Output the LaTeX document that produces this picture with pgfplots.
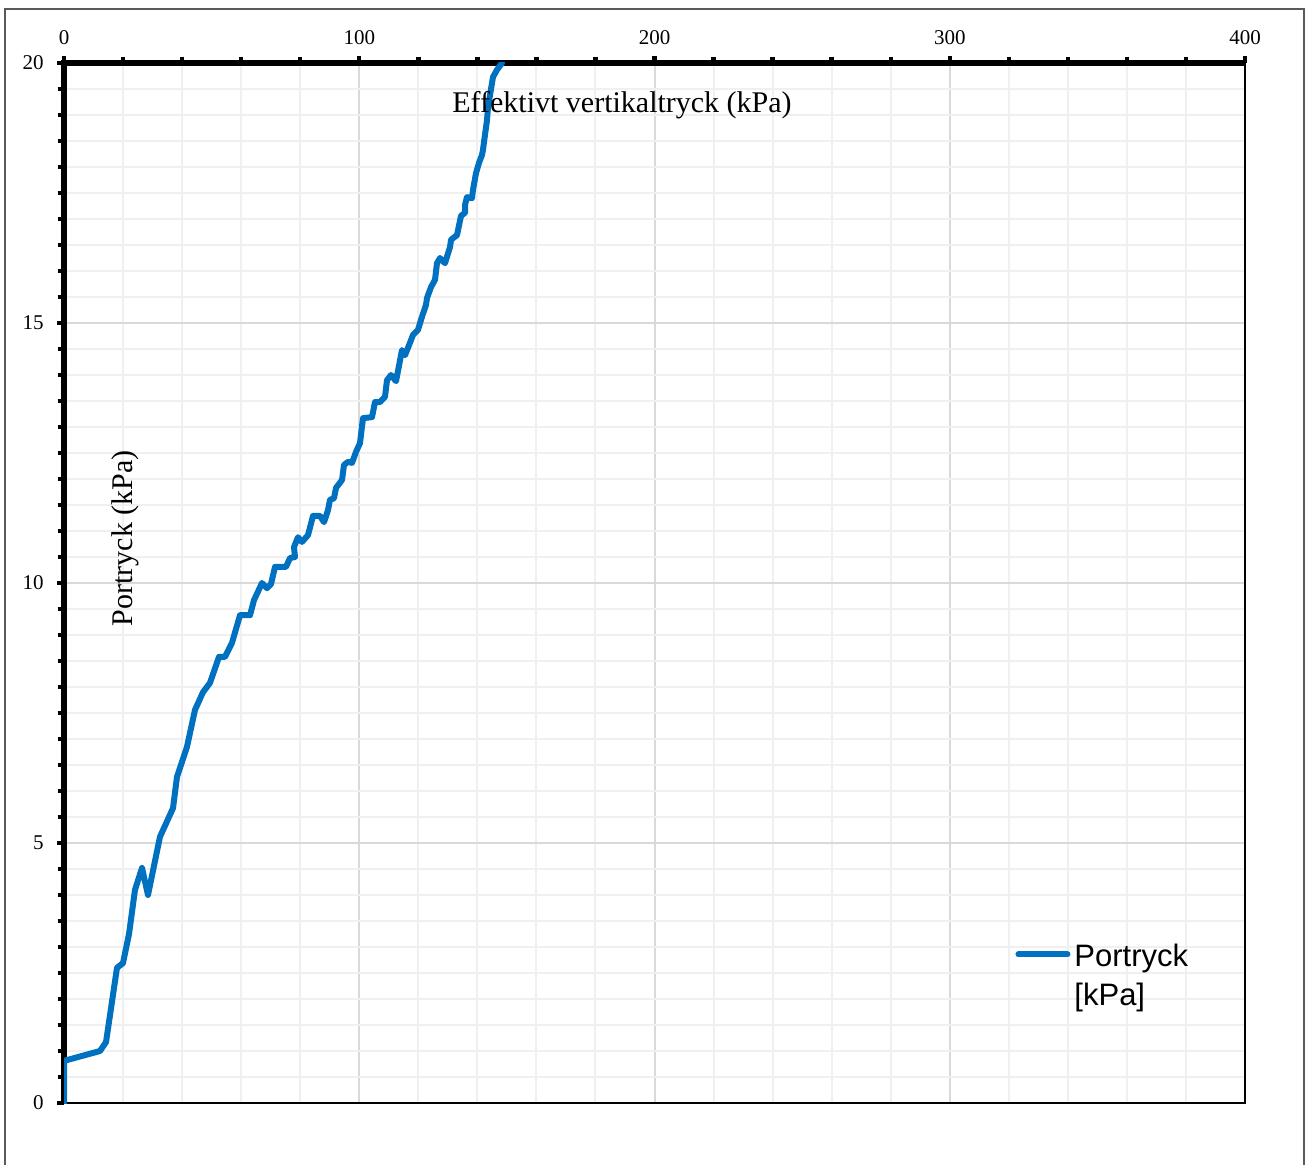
\documentclass[border=0pt]{standalone}
\usepackage{fontspec}
\setmainfont{Liberation Serif}
\newfontfamily\legendfont{Liberation Sans}
\usepackage{pgfplots}
\pgfplotsset{compat=1.18}

\definecolor{curveblue}{HTML}{0070C0}
\definecolor{gridmajor}{HTML}{D9D9D9}
\definecolor{gridminor}{HTML}{F0F0F0}
\definecolor{framegray}{HTML}{5A5A5A}

\pgfplotstableread{
x y
0.00 0.00
0.00 0.81
12.19 1.00
14.23 1.17
17.95 2.60
19.98 2.69
22.02 3.25
24.05 4.10
26.42 4.52
28.45 4.00
32.51 5.12
36.92 5.67
38.27 6.27
41.66 6.85
44.37 7.56
47.08 7.90
49.45 8.08
52.50 8.58
54.53 8.58
56.90 8.85
59.61 9.38
63.00 9.38
64.35 9.67
67.06 10.00
68.76 9.90
70.11 9.98
71.47 10.31
75.19 10.31
76.55 10.48
78.24 10.50
77.90 10.69
79.25 10.88
80.61 10.79
82.64 10.92
84.34 11.29
86.71 11.29
88.06 11.17
89.42 11.40
90.09 11.60
91.45 11.63
92.13 11.83
94.16 11.98
94.84 12.27
96.19 12.33
97.54 12.31
98.90 12.52
100.25 12.69
101.27 13.17
104.32 13.19
105.33 13.48
107.03 13.48
108.72 13.58
109.40 13.90
110.75 14.00
112.45 13.88
114.48 14.48
115.50 14.38
117.19 14.62
118.20 14.77
119.90 14.87
121.25 15.12
122.61 15.35
122.95 15.48
124.30 15.69
125.66 15.83
126.33 16.15
127.35 16.25
129.04 16.15
130.74 16.46
131.08 16.60
133.11 16.69
134.46 17.06
135.82 17.12
135.82 17.27
136.49 17.42
138.19 17.40
138.53 17.56
139.54 17.88
140.56 18.08
141.57 18.23
141.91 18.33
142.25 18.48
143.27 18.90
143.61 19.15
145.30 19.73
146.66 19.87
148.35 20.00
}\portryck

\begin{document}
\begin{tikzpicture}[x=1pt,y=1pt]
\useasboundingbox (0,0) rectangle (653.5,-582.5);
% outer chart frame
\draw[framegray, line width=0.8pt] (2.5,-582.5) -- (2.5,-4.5) -- (652,-4.5) -- (652,-582.5);
\begin{axis}[
  name=ax,
  at={(32pt,-551.5pt)}, anchor=south west,
  scale only axis, width=590.5pt, height=520pt,
  xmin=0, xmax=400, ymin=0, ymax=20,
  xtick={0,100,...,400}, ytick={0,5,...,20},
  minor x tick num=4, minor y tick num=9,
  xtick pos=right, ytick pos=left,
  xticklabel pos=right,
  axis line style={draw=none},
  tick align=outside,
  major tick length=3.6pt, minor tick length=3.2pt,
  every tick/.style={black, line width=2.2pt},
  grid=both,
  major grid style={draw=gridmajor, line width=1pt},
  minor grid style={draw=gridminor, line width=1pt},
  ticklabel style={font=\fontsize{10.5}{12}\selectfont},
  xticklabel style={yshift=2pt},
  yticklabel style={xshift=-3pt},
  /pgf/number format/assume math mode=true,
  xlabel={Effektivt vertikaltryck (kPa)},
  ylabel={Portryck (kPa)},
  label style={font=\fontsize{15}{18}\selectfont},
  xlabel style={at={(rel axis cs:0.4725,0.959)}, anchor=center},
  ylabel style={at={(rel axis cs:0.0517,0.543)}, anchor=center, rotate=0},
  legend style={at={(0.8053,0.1428)}, anchor=west, draw=none, fill=none,
    inner sep=0pt, font=\legendfont\fontsize{15.5}{19.5}\selectfont},
  legend cell align=left,
  legend image code/.code={\draw[#1] (0pt,0pt) -- (24.5pt,0pt);},
  clip mode=individual,
]
% axis frame first, so the curve lies over it: heavy top and left, lighter bottom and right
\draw[black, line width=1.4pt] (rel axis cs:0,0) -- (rel axis cs:1,0) -- (rel axis cs:1,1);
\draw[black, line width=3.3pt] (rel axis cs:0,0) -- (rel axis cs:0,1) -- (rel axis cs:1,1);
\addplot[curveblue, line width=3pt, line join=round, line cap=round] table[x=x, y=y] {\portryck};
\addlegendentry{\begin{tabular}[t]{@{}l@{}}Portryck\\{[kPa]}\end{tabular}}
\end{axis}
\end{tikzpicture}
\end{document}
